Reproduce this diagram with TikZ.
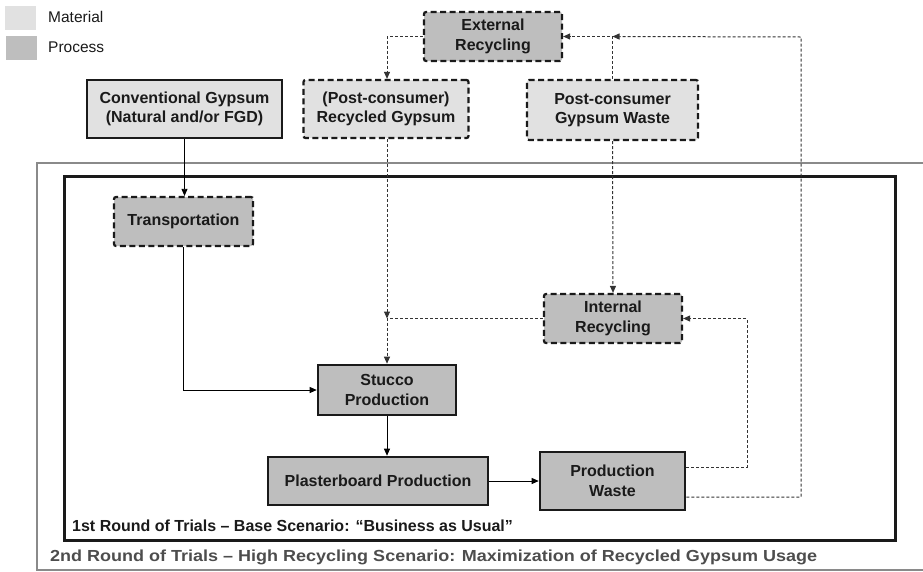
\documentclass[tikz,border=0pt]{standalone}
\usepackage{fontspec}
\setmainfont{Liberation Sans}
\usetikzlibrary{arrows.meta}
\definecolor{matfill}{HTML}{E1E1E1}
\definecolor{procfill}{HTML}{BEBEBE}
\definecolor{edge}{HTML}{1A1A1A}
\definecolor{dline}{HTML}{333333}
\definecolor{outergray}{HTML}{8A8A8A}
\definecolor{labgray}{HTML}{4D4D4D}
\tikzset{
  box/.style={align=center, inner sep=0pt, text=edge,
    font=\bfseries\fontsize{16}{19.5}\selectfont},
  solidbox/.style={box, draw=edge, line width=2.6pt},
  thinbox/.style={box, draw=edge, line width=1.8pt},
  dashbox/.style={box, draw=edge, line width=2.2pt, dash pattern=on 6pt off 3.5pt, rounded corners=2pt},
  mat/.style={fill=matfill},
  proc/.style={fill=procfill},
  solidarrow/.style={draw=black, line width=0.8pt, -{Triangle[length=7pt,width=6pt]}},
  dasharrow/.style={draw=dline, line width=1pt, dash pattern=on 3pt off 2pt, -{Triangle[length=7pt,width=6pt]}},
  swatch/.style={inner sep=0pt, minimum width=31pt, minimum height=24pt},
  legtext/.style={anchor=west, inner sep=0pt, font=\fontsize{15.5}{18}\selectfont, text=edge},
  scenlabel/.style={anchor=west, inner sep=0pt, font=\bfseries\fontsize{16}{19}\selectfont}
}
\begin{document}
\begin{tikzpicture}[x=1pt,y=1pt]
\useasboundingbox (0,0) rectangle (923,-571);
% scenario frames
\draw[outergray, line width=2pt] (923,-163) -- (37,-163) -- (37,-570) -- (923,-570);
\draw[edge, line width=3pt] (64,-176) rectangle (895,-540);
\node[scenlabel, text=edge] (lab1) at (72,-526) {1st Round of Trials -- Base Scenario: “Business as Usual”};
\node[scenlabel, text=labgray] (lab2) at (50,-557) {\scalebox{1.125}[1]{2nd Round of Trials -- High Recycling Scenario: Maximization of Recycled Gypsum Usage}};
% legend
\node[swatch, fill=matfill] (swm) at (20.5,-18) {};
\node[swatch, fill=procfill] (swp) at (21.5,-48) {};
\node[legtext] (lm) at (48,-17) {Material};
\node[legtext] (lp) at (48,-47) {Process};
% nodes
\node[thinbox, mat, minimum width=195pt, minimum height=58pt] (conv) at (184.5,-109) {Conventional Gypsum\\(Natural and/or FGD)};
\node[dashbox, proc, minimum width=138pt, minimum height=49pt] (ext) at (493,-36.5) {External\\Recycling};
\node[dashbox, mat, minimum width=165pt, minimum height=58pt] (recyc) at (386,-109) {(Post-consumer)\\Recycled Gypsum};
\node[dashbox, mat, minimum width=171pt, minimum height=60pt] (pcw) at (612.5,-110) {Post-consumer\\Gypsum Waste};
\node[dashbox, proc, minimum width=139pt, minimum height=49pt] (trans) at (183.5,-221.5) {Transportation};
\node[dashbox, proc, minimum width=138pt, minimum height=49pt] (intrec) at (613,-318.5) {Internal\\Recycling};
\node[solidbox, proc, minimum width=138pt, minimum height=50pt] (stucco) at (387,-390) {Stucco\\Production};
\node[solidbox, proc, minimum width=220pt, minimum height=48pt] (plaster) at (378,-481) {Plasterboard Production};
\node[solidbox, proc, minimum width=145pt, minimum height=58pt] (pwaste) at (612.5,-481) {Production\\Waste};
% helper coordinates
\coordinate (jn) at (stucco.north |- intrec.west);
\coordinate (r1) at (747,-318.5);
\coordinate (r2) at (801,-37);
\coordinate (mtop) at (pcw.north |- ext.east);
% solid connectors
\draw[solidarrow] (conv.south) -- (conv.south |- trans.north);
\draw[solidarrow] (trans.south) |- (stucco.west);
\draw[solidarrow] (stucco.south) -- (stucco.south |- plaster.north);
\draw[solidarrow] (plaster.east) -- (plaster.east -| pwaste.west);
% dashed connectors
\draw[dasharrow] (ext.west) -| (jn |- recyc.north);
\draw[dasharrow] (jn |- recyc.south) -- (jn);
\draw[dasharrow] (intrec.west) -- (jn) -- (stucco.north);
\draw[dasharrow] (pcw.north) |- (ext.east);
\draw[dasharrow] (pcw.south) -- (intrec.north);
\draw[dasharrow] ([yshift=14pt]pwaste.east) -| (r1) -- (intrec.east);
\draw[dasharrow] ([yshift=-16pt]pwaste.east) -| (r2) -- (mtop);
\end{tikzpicture}
\end{document}
